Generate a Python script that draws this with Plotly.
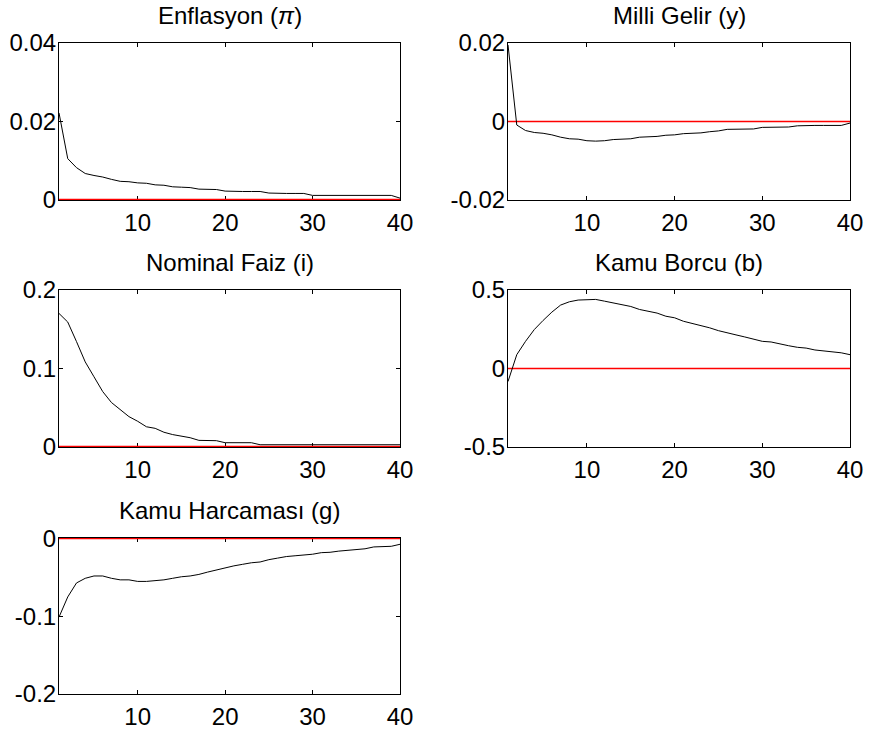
import plotly.graph_objects as go

periods = list(range(1, 41))

enflasyon = [0.0221, 0.0104, 0.0081, 0.0066, 0.0061, 0.0057, 0.0051, 0.0046, 0.0045, 0.0042,
             0.0041, 0.0037, 0.0036, 0.0032, 0.0031, 0.0030, 0.0026, 0.0026, 0.0025, 0.0021,
             0.0020, 0.0020, 0.0020, 0.0020, 0.0016, 0.0015, 0.0015, 0.0015, 0.0015, 0.0010,
             0.0010, 0.0010, 0.0010, 0.0010, 0.0010, 0.0010, 0.0010, 0.0010, 0.0010, 0.0003]

milli_gelir = [0.0195, -0.0009, -0.0023, -0.0028, -0.0030, -0.0034, -0.0040, -0.0044, -0.0045, -0.0049,
               -0.0050, -0.0049, -0.0046, -0.0045, -0.0044, -0.0040, -0.0039, -0.0038, -0.0035, -0.0034,
               -0.0031, -0.0030, -0.0029, -0.0026, -0.0024, -0.0020, -0.0020, -0.0020, -0.0019, -0.0015,
               -0.0015, -0.0015, -0.0014, -0.0011, -0.0010, -0.0010, -0.0010, -0.0010, -0.0010, -0.0004]

nominal_faiz = [0.170, 0.159, 0.134, 0.108, 0.089, 0.070, 0.056, 0.047, 0.038, 0.032,
                0.025, 0.023, 0.018, 0.015, 0.013, 0.011, 0.0076, 0.0076, 0.0072, 0.0046,
                0.0046, 0.0046, 0.0046, 0.0020, 0.0020, 0.0020, 0.0020, 0.0020, 0.0020, 0.0020,
                0.0020, 0.0020, 0.0020, 0.0020, 0.0020, 0.0020, 0.0020, 0.0020, 0.0020, 0.0020]

kamu_borcu = [-0.083, 0.088, 0.173, 0.248, 0.306, 0.359, 0.404, 0.425, 0.436, 0.440,
              0.440, 0.429, 0.417, 0.406, 0.395, 0.376, 0.365, 0.353, 0.333, 0.323,
              0.301, 0.288, 0.276, 0.259, 0.241, 0.226, 0.214, 0.201, 0.186, 0.173,
              0.169, 0.156, 0.145, 0.135, 0.130, 0.118, 0.113, 0.105, 0.100, 0.088]

kamu_harcamasi = [-0.101, -0.075, -0.057, -0.051, -0.048, -0.048, -0.051, -0.053, -0.053, -0.055,
                  -0.055, -0.054, -0.053, -0.051, -0.049, -0.048, -0.046, -0.043, -0.040, -0.038,
                  -0.035, -0.033, -0.031, -0.030, -0.027, -0.025, -0.023, -0.022, -0.021, -0.020,
                  -0.018, -0.0175, -0.016, -0.015, -0.0136, -0.013, -0.0106, -0.010, -0.0098, -0.0072]

titles = ["Enflasyon (<i>π</i>)", "Milli Gelir (y)", "Nominal Faiz (i)", "Kamu Borcu (b)", "Kamu Harcaması (g)"]
series = [enflasyon, milli_gelir, nominal_faiz, kamu_borcu, kamu_harcamasi]
y_ranges = [[0, 0.04], [-0.02, 0.02], [0, 0.2], [-0.5, 0.5], [-0.2, 0]]
y_ticks = [[0, 0.02, 0.04], [-0.02, 0, 0.02], [0, 0.1, 0.2], [-0.5, 0, 0.5], [-0.2, -0.1, 0]]
y_ticktext = [["0", "0.02", "0.04"], ["-0.02", "0", "0.02"], ["0", "0.1", "0.2"],
              ["-0.5", "0", "0.5"], ["-0.2", "-0.1", "0"]]
x_ticks = [10, 20, 30, 40]

W, H = 872, 735
x_doms = [[59 / W, 400 / W], [508 / W, 850 / W]]
rows_px = [(43, 200), (290, 447), (538, 694)]
y_doms = [[1 - b / H, 1 - t / H] for t, b in rows_px]
positions = [(0, 0), (0, 1), (1, 0), (1, 1), (2, 0)]

fig = go.Figure()
font = dict(family="Liberation Sans, Arial, sans-serif", size=24, color="black")
annotations = []
for k, (vals, (r, c)) in enumerate(zip(series, positions)):
    n = "" if k == 0 else str(k + 1)
    xa, ya = "x" + n, "y" + n
    lo, hi = y_ranges[k]
    px = (hi - lo) / (rows_px[r][1] - rows_px[r][0])
    # keep the zero reference line just inside the frame when it sits on an edge
    rng = [lo - 0.7 * px if lo == 0 else lo, hi + 0.7 * px if hi == 0 else hi]
    fig.add_trace(go.Scatter(x=periods, y=[0] * len(periods), mode="lines",
                             line=dict(color="#ff0000", width=1.3), xaxis=xa, yaxis=ya,
                             showlegend=False, hoverinfo="skip"))
    fig.add_trace(go.Scatter(x=periods, y=vals, mode="lines",
                             line=dict(color="black", width=1), xaxis=xa, yaxis=ya,
                             showlegend=False))
    common = dict(showline=True, linecolor="black", linewidth=1, mirror="ticks",
                  ticks="inside", ticklen=4, tickcolor="black", showgrid=False,
                  zeroline=False, tickfont=font, automargin=False, layer="below traces")
    fig.update_layout(**{
        "xaxis" + n: dict(domain=x_doms[c], anchor=ya, range=[1, 40], tickvals=x_ticks,
                          ticklabelstandoff=1, **common),
        "yaxis" + n: dict(domain=y_doms[r], anchor=xa, range=rng, tickvals=y_ticks[k],
                          ticktext=y_ticktext[k], ticklabelstandoff=-3, **common),
    })
    annotations.append(dict(text=titles[k], x=sum(x_doms[c]) / 2, y=y_doms[r][1],
                            xref="paper", yref="paper", xanchor="center", yanchor="bottom",
                            yshift=12, showarrow=False, font=font))

fig.update_layout(width=W, height=H, margin=dict(l=0, r=0, t=0, b=0),
                  plot_bgcolor="white", paper_bgcolor="white", annotations=annotations,
                  template="none", hovermode=False)
fig.write_html("out.html", config={"displayModeBar": False},
               post_script="document.body.style.margin='0';document.body.style.overflow='hidden';")
